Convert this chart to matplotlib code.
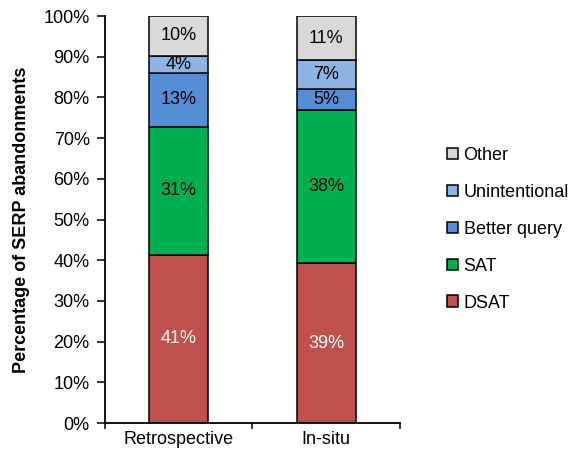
import matplotlib.pyplot as plt
from matplotlib.patches import Patch
from matplotlib.ticker import PercentFormatter
import numpy as np

plt.rcParams['font.family'] = ['Liberation Sans', 'DejaVu Sans']

studies = ["Retrospective", "In-situ"]
reasons = ["DSAT", "SAT", "Better query", "Unintentional", "Other"]
dsat = [41.4, 39.2]
sat = [31.4, 37.8]
better_query = [13.3, 5.1]
unintentional = [4.1, 7.0]
other = [9.8, 10.9]
colors = ["#C0504D", "#00B050", "#558ED5", "#8EB4E3", "#D9D9D9"]
text_colors = ["white", "black", "black", "black", "black"]

series = [dsat, sat, better_query, unintentional, other]
fs = 13

fig = plt.figure(figsize=(5.79, 4.55), dpi=100)
ax = fig.add_axes([0.1813, 0.0703, 0.5095, 0.8945])

x = np.arange(len(studies))
bottom = np.zeros(len(studies))
for vals, col, tcol in zip(series, colors, text_colors):
    vals = np.array(vals)
    ax.bar(x, vals, 0.4, bottom=bottom, color=col, edgecolor="black", linewidth=1.1, zorder=2)
    for xi, b, v in zip(x, bottom, vals):
        ax.text(xi, b + v / 2, f"{v:.0f}%", ha="center", va="center",
                fontsize=fs, color=tcol, zorder=3)
    bottom += vals

ax.set_xlim(-0.5, 1.5)
ax.set_ylim(0, 100)
ax.set_yticks(np.arange(0, 101, 10))
ax.yaxis.set_major_formatter(PercentFormatter(decimals=0))
ax.set_xticks([-0.5, 0.5, 1.5])
ax.set_xticklabels([])
ax.set_xticks(x, minor=True)
ax.set_xticklabels(studies, minor=True)
ax.tick_params(axis="x", which="minor", length=0, labelsize=fs, pad=6)
ax.tick_params(axis="x", which="major", length=4, width=1.1, direction="out")
ax.tick_params(axis="y", length=6, width=1.1, labelsize=fs, pad=5)
for side in ["top", "right"]:
    ax.spines[side].set_visible(False)
for side in ["left", "bottom"]:
    ax.spines[side].set_linewidth(1.3)

ax.set_ylabel("Percentage of SERP abandonments", fontsize=fs, fontweight="bold", labelpad=10)

handles = [Patch(facecolor=c, edgecolor="black", linewidth=1.1) for c in colors]
fig.legend(handles[::-1], reasons[::-1], loc="center left", bbox_to_anchor=(0.760, 0.496),
           frameon=False, fontsize=fs, handlelength=0.6, handleheight=0.6,
           handletextpad=0.3, labelspacing=1.1, borderaxespad=0)

fig.savefig("out.png", dpi=100)
